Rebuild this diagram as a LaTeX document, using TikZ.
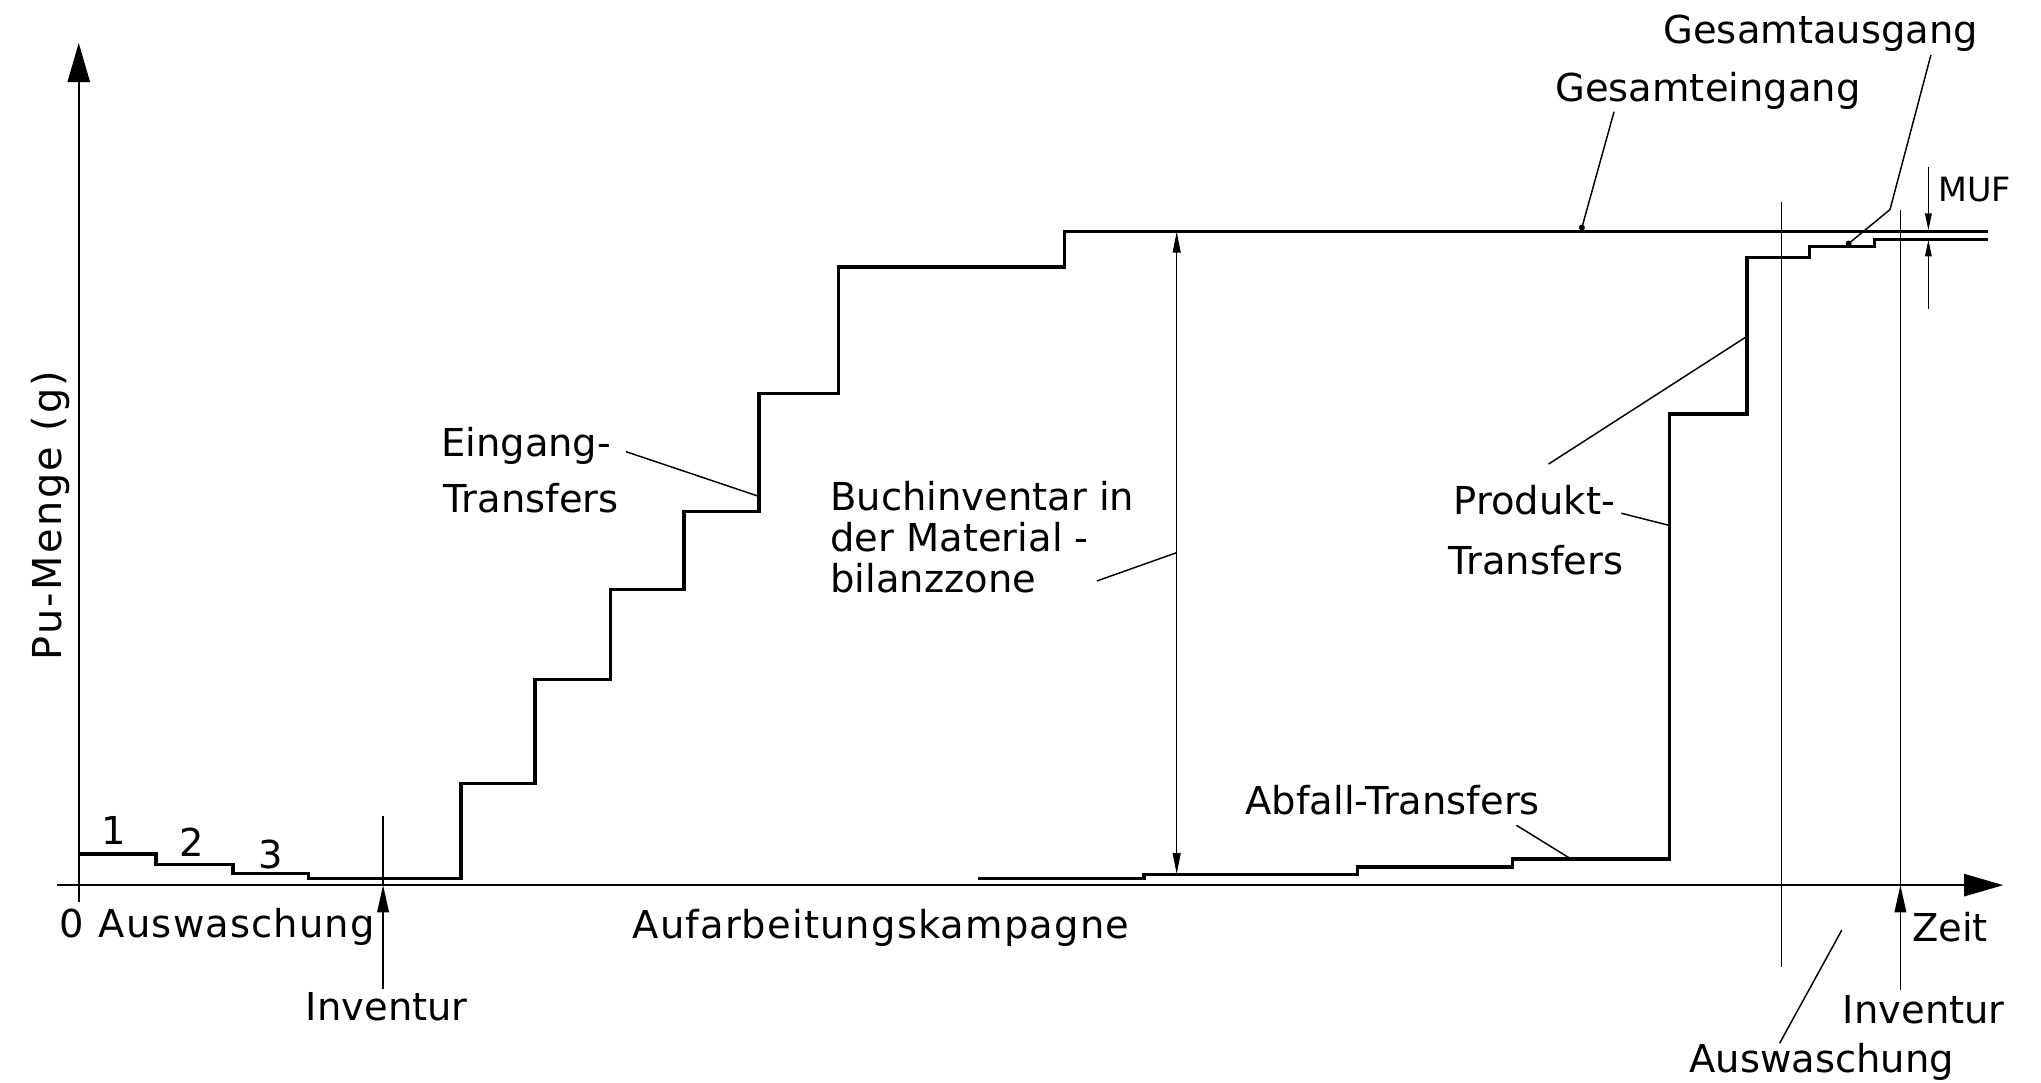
\documentclass[tikz,border=0pt]{standalone}
\usepackage{fontspec}
\setmainfont{DejaVu Sans}
\newfontfamily\widefont{DejaVu Sans}[LetterSpace=3]
\newfontfamily\widerfont{DejaVu Sans}[LetterSpace=6]
\usetikzlibrary{arrows.meta}
\begin{document}
\begin{tikzpicture}[x=0.01cm,y=-0.01cm,
  lbl/.style={inner sep=0pt,outer sep=0pt,font=\fontsize{8.4pt}{10pt}\selectfont},
  widelbl/.style={inner sep=0pt,outer sep=0pt,font=\widefont\fontsize{8.4pt}{10pt}\selectfont},
  yaxlbl/.style={inner sep=0pt,outer sep=0pt,font=\widerfont\fontsize{8.7pt}{10pt}\selectfont},
  smalllbl/.style={inner sep=0pt,outer sep=0pt,font=\fontsize{7.3pt}{9pt}\selectfont},
  stair/.style={line width=0.75pt,line join=miter},
  axisline/.style={line width=0.45pt},
  thinline/.style={line width=0.32pt},
  bigtip/.style={-{Triangle[length=0.3cm,width=0.17cm]}},
  invtip/.style={-{Triangle[length=0.21cm,width=0.09cm]}},
  dimtip/.style={{Triangle[length=0.16cm,width=0.06cm]}-{Triangle[length=0.16cm,width=0.06cm]}},
  muftip/.style={-{Triangle[length=0.13cm,width=0.05cm]}},
  dottip/.style={-{Circle[length=0.045cm]}}
]
\fill[white] (0,0) rectangle (1568,832);
\useasboundingbox (0,0) rectangle (1568,832);

% axes
\coordinate (y0) at (60.5,693);
\coordinate (y1) at (60.5,33);
\coordinate (x0) at (44,680);
\coordinate (x1) at (1539,680);
\draw[axisline,bigtip] (y0) -- (y1);
\draw[axisline,bigtip] (x0) -- (x1);

% input staircase (with initial wash-out steps)
\draw[stair] (60.5,656) -- (120,656) -- (120,664) -- (179,664) -- (179,671) -- (237,671) -- (237,675)
  -- (354,675) -- (354,602) -- (411,602) -- (411,522) -- (469,522) -- (469,453) -- (525.5,453)
  -- (525.5,393) -- (583,393) -- (583,302.5) -- (644,302.5) -- (644,205) -- (818,205) -- (818,178)
  -- (1527,178);

% output staircase
\draw[stair] (751,675) -- (879,675) -- (879,672) -- (1043,672) -- (1043,666) -- (1162,666)
  -- (1162,660) -- (1282.5,660) -- (1282.5,318) -- (1342,318) -- (1342,198) -- (1390,198)
  -- (1390,189.5) -- (1440,189.5) -- (1440,184) -- (1527,184);

% Inventur (left)
\coordinate (invLtop) at (294.3,627);
\coordinate (invLax) at (294.3,680);
\coordinate (invLbot) at (294.3,760);
\draw[thinline] (invLtop) -- (invLax);
\draw[thinline,invtip] (invLbot) -- (invLax);

% Inventur (right)
\coordinate (invRtop) at (1460,161);
\coordinate (invRax) at (1460,680);
\coordinate (invRbot) at (1460,760.5);
\draw[thinline] (invRtop) -- (invRax);
\draw[thinline,invtip] (invRbot) -- (invRax);

% Auswaschung (right) marker
\coordinate (awRtop) at (1368.5,155);
\coordinate (awRbot) at (1368.5,742.6);
\draw[thinline] (awRtop) -- (awRbot);

% Buchinventar dimension
\coordinate (bTop) at (904,178);
\coordinate (bBot) at (904,671.5);
\draw[thinline,dimtip] (bTop) -- (bBot);

% MUF
\coordinate (mA) at (1481.5,128);
\coordinate (mAt) at (1481.5,177);
\coordinate (mB) at (1481.5,237);
\coordinate (mBt) at (1481.5,184);
\draw[thinline,muftip] (mA) -- (mAt);
\draw[thinline,muftip] (mB) -- (mBt);

% labels
\node[yaxlbl,anchor=base,rotate=90] (ylab) at (47,396) {Pu-Menge (g)};
\node[lbl,anchor=base] (n0) at (55,720.5) {0};
\node[widelbl,anchor=base west] (ausw1) at (76,720.5) {Auswaschung};
\node[lbl,anchor=base west] (inv1) at (235,784) {Inventur};
\node[lbl,anchor=base] (l1) at (87,649) {1};
\node[lbl,anchor=base] (l2) at (147.5,658) {2};
\node[lbl,anchor=base] (l3) at (208,667) {3};
\node[widelbl,anchor=base west] (auf) at (486,720.8) {Aufarbeitungskampagne};
\node[lbl,anchor=base west] (ein1) at (339,351) {Eingang-};
\node[lbl,anchor=base west] (ein2) at (341,394) {Transfers};
\node[lbl,anchor=base west] (buch1) at (638,392) {Buchinventar in};
\node[lbl,anchor=base west] (buch2) at (638,424) {der Material -};
\node[lbl,anchor=base west] (buch3) at (638,455) {bilanzzone};
\node[lbl,anchor=base west] (prod1) at (1117,395.6) {Produkt-};
\node[lbl,anchor=base west] (prod2) at (1113,441.4) {Transfers};
\node[lbl,anchor=base west] (abf) at (957,626) {Abfall-Transfers};
\node[lbl,anchor=base west] (gein) at (1195,78) {Gesamteingang};
\node[lbl,anchor=base west] (gaus) at (1278,33.3) {Gesamtausgang};
\node[smalllbl,anchor=base west] (muf) at (1489,155) {MUF};
\node[lbl,anchor=base west] (zeit) at (1469,723.4) {Zeit};
\node[lbl,anchor=base] (inv2) at (1478,786) {Inventur};
\node[lbl,anchor=base west] (ausw2) at (1298,824) {Auswaschung};

% leader lines
\coordinate (eA) at (481,347);   \coordinate (eB) at (582,381);
\draw[thinline] (eA) -- (eB);
\coordinate (bA) at (842.7,446.3); \coordinate (bB) at (903.6,424.7);
\draw[thinline] (bA) -- (bB);
\coordinate (pA) at (1245.6,394.3); \coordinate (pB) at (1282.3,403.6);
\draw[thinline] (pA) -- (pB);
\coordinate (pC) at (1189.7,356.5); \coordinate (pD) at (1341.8,258.6);
\draw[thinline] (pC) -- (pD);
\coordinate (aA) at (1165,634); \coordinate (aB) at (1205.5,659);
\draw[thinline] (aA) -- (aB);
\coordinate (wA) at (1367.2,801.5); \coordinate (wB) at (1415,714.5);
\draw[thinline] (wA) -- (wB);
\coordinate (gA) at (1240,85.8); \coordinate (gB) at (1214.7,177);
\draw[thinline,dottip] (gA) -- (gB);
\coordinate (hA) at (1483.4,42.3); \coordinate (hK) at (1452,161); \coordinate (hB) at (1418.5,188.5);
\draw[thinline,dottip] (hA) -- (hK) -- (hB);
\end{tikzpicture}
\end{document}
